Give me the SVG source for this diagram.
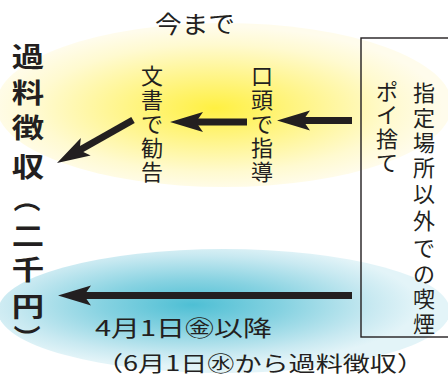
<svg xmlns="http://www.w3.org/2000/svg" width="448" height="376" viewBox="0 0 448 376">
<defs>
<radialGradient id="gy" cx="0.48" cy="0.52" r="0.5" fx="0.48" fy="0.52">
<stop offset="0" stop-color="#fff042"/>
<stop offset="0.4" stop-color="#fff58a"/>
<stop offset="0.78" stop-color="#fffad0"/>
<stop offset="1" stop-color="#fffcec"/>
</radialGradient>
<radialGradient id="gb" cx="0.43" cy="0.45" r="0.5" fx="0.43" fy="0.45">
<stop offset="0" stop-color="#4ebfd4"/>
<stop offset="0.4" stop-color="#86d2e1"/>
<stop offset="0.8" stop-color="#c8e9f1"/>
<stop offset="1" stop-color="#e3f4f8"/>
</radialGradient>
<path id="ah" d="M0,0 L-33,-10 L-26,0 L-33,10 Z"/>
<style>
.t{font-family:"Noto Sans CJK JP","Noto Sans",sans-serif;fill:#231f20}
.v{font-size:22px;text-anchor:middle;dominant-baseline:central}
.b{font-size:27px;font-weight:700;text-anchor:middle;dominant-baseline:central}
.ln{stroke:#231f20;stroke-width:7;fill:none}
.hd{fill:#231f20}
</style>
</defs>
<ellipse cx="224" cy="105" rx="228" ry="82" fill="url(#gy)"/>
<ellipse cx="224" cy="311" rx="226" ry="62" fill="url(#gb)"/>
<g id="box"><rect x="361" y="38" width="100" height="299" fill="none" stroke="#231f20" stroke-width="1.4"/></g>
<g id="title"><text class="t" x="155" y="33" font-size="24" textLength="80" lengthAdjust="spacingAndGlyphs">今まで</text></g>
<g id="kaRyo">
<g transform="translate(28,0) scale(1.2,1)">
<text class="t b" x="0" y="55">過</text>
<text class="t b" x="0" y="91">料</text>
<text class="t b" x="0" y="126">徴</text>
<text class="t b" x="0" y="165">収</text>
<text class="t b" x="0" y="234">二</text>
<text class="t b" x="0" y="268">千</text>
<text class="t b" x="0" y="305">円</text>
</g>
<text class="t b" x="0" y="0" transform="translate(28,199) rotate(90)">（</text>
<text class="t b" x="0" y="0" transform="translate(28,338) rotate(90)">）</text>
</g>
<g id="bunsho">
<text class="t v" x="152" y="74">文</text>
<text class="t v" x="152" y="98">書</text>
<text class="t v" x="152" y="122">で</text>
<text class="t v" x="152" y="146">勧</text>
<text class="t v" x="152" y="170">告</text>
</g>
<g id="koto">
<text class="t v" x="262" y="74">口</text>
<text class="t v" x="262" y="98">頭</text>
<text class="t v" x="262" y="122">で</text>
<text class="t v" x="262" y="146">指</text>
<text class="t v" x="262" y="170">導</text>
</g>
<g id="poi">
<text class="t v" x="387" y="90">ポ</text>
<text class="t v" x="387" y="113">イ</text>
<text class="t v" x="387" y="137">捨</text>
<text class="t v" x="387" y="161">て</text>
</g>
<g id="shitei">
<text class="t v" x="424" y="91">指</text>
<text class="t v" x="424" y="116">定</text>
<text class="t v" x="424" y="141">場</text>
<text class="t v" x="424" y="166">所</text>
<text class="t v" x="424" y="192">以</text>
<text class="t v" x="424" y="219">外</text>
<text class="t v" x="424" y="246">で</text>
<text class="t v" x="424" y="272">の</text>
<text class="t v" x="424" y="297">喫</text>
<text class="t v" x="424" y="322">煙</text>
</g>
<g id="date">
<text class="t" x="95" y="336" font-size="22" textLength="177" lengthAdjust="spacingAndGlyphs">4月1日㊎以降</text>
<text class="t" x="96" y="371" font-size="21" textLength="328" lengthAdjust="spacingAndGlyphs">（6月1日㊌から過料徴収）</text>
</g>
<g id="connectors">
<line class="ln" x1="352" y1="120.5" x2="300" y2="120.5"/>
<use href="#ah" class="hd" transform="translate(277,120.5) rotate(180)"/>
<line class="ln" x1="247" y1="122" x2="195" y2="122"/>
<use href="#ah" class="hd" transform="translate(170,122) rotate(180)"/>
<line class="ln" x1="133" y1="120" x2="79" y2="150.5"/>
<use href="#ah" class="hd" transform="translate(57,163) rotate(150.5)"/>
<line class="ln" x1="352" y1="295.5" x2="82" y2="295.5"/>
<use href="#ah" class="hd" transform="translate(58,295.5) rotate(180)"/>
</g>
</svg>
